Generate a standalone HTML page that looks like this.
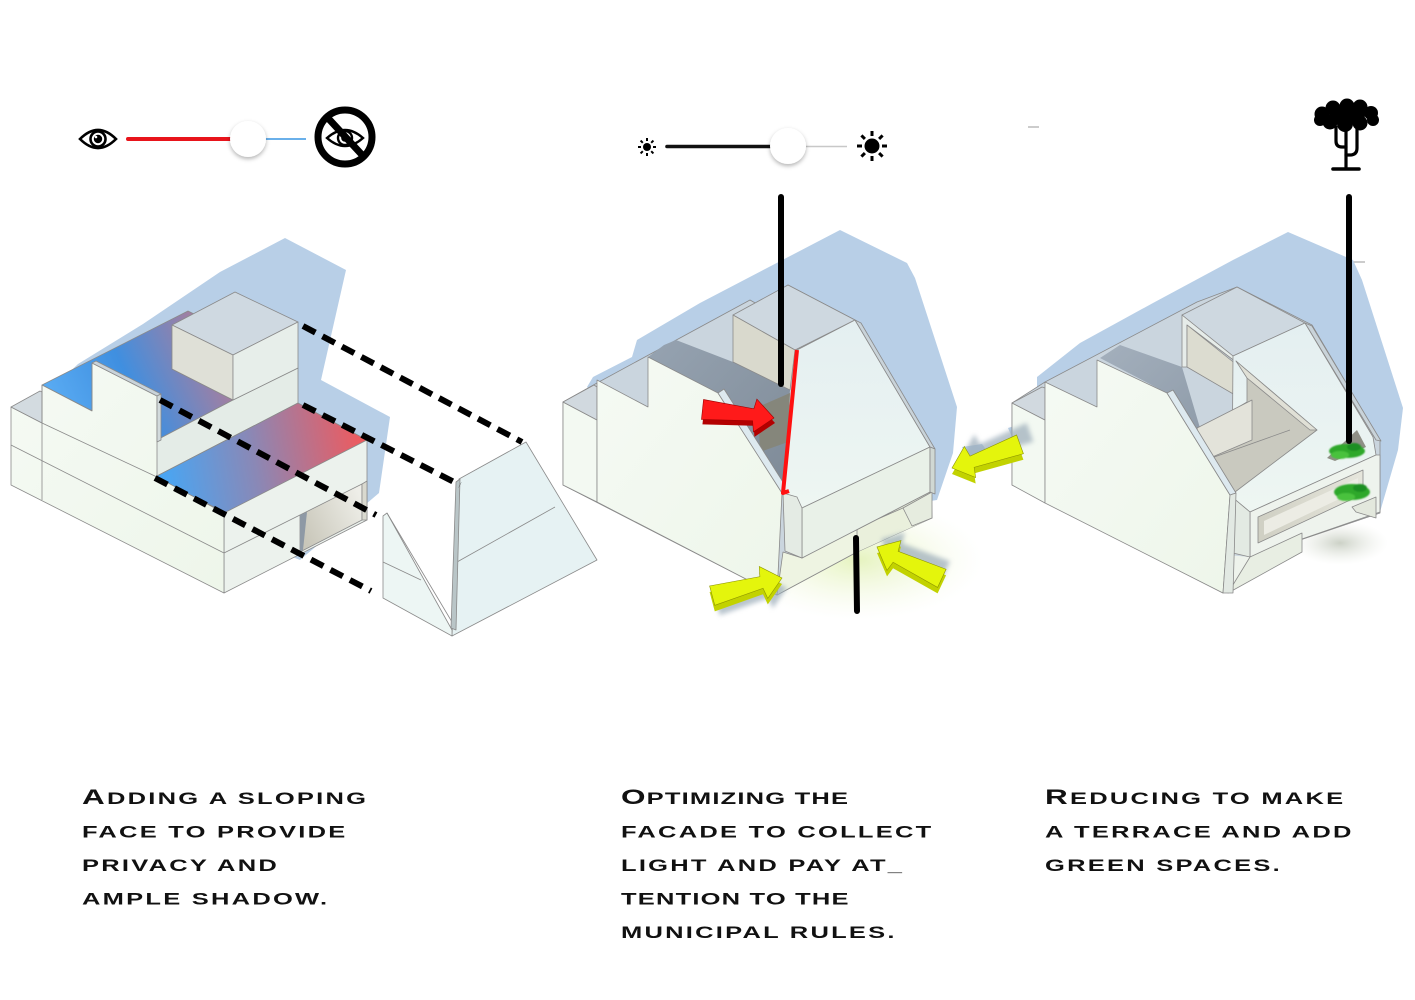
<!DOCTYPE html>
<html><head><meta charset="utf-8">
<style>html,body{margin:0;padding:0;background:#fff;}svg{display:block}</style>
</head><body>
<svg width="1415" height="1000" viewBox="0 0 1415 1000" xmlns="http://www.w3.org/2000/svg">
<defs>
  <linearGradient id="roofUp" gradientUnits="userSpaceOnUse" x1="55" y1="400" x2="205" y2="330">
    <stop offset="0" stop-color="#58aaf2"/><stop offset="0.45" stop-color="#3f8fe0"/><stop offset="1" stop-color="#a87e9e"/>
  </linearGradient>
  <linearGradient id="roofLow" gradientUnits="userSpaceOnUse" x1="165" y1="475" x2="362" y2="440">
    <stop offset="0" stop-color="#4aa5f2"/><stop offset="0.45" stop-color="#8a88b6"/><stop offset="1" stop-color="#ee5a5e"/>
  </linearGradient>
  <linearGradient id="slate" gradientUnits="userSpaceOnUse" x1="650" y1="350" x2="790" y2="480">
    <stop offset="0" stop-color="#95a2b0"/><stop offset="1" stop-color="#7f8b98"/>
  </linearGradient>
  <linearGradient id="slate2" gradientUnits="userSpaceOnUse" x1="1100" y1="350" x2="1230" y2="490">
    <stop offset="0" stop-color="#a3afbc"/><stop offset="1" stop-color="#8693a1"/>
  </linearGradient>
  <linearGradient id="slopeFace" x1="0" y1="0" x2="0" y2="1">
    <stop offset="0" stop-color="#e4eff1"/><stop offset="1" stop-color="#eef6f2"/>
  </linearGradient>
  <linearGradient id="frontFace" x1="0" y1="0" x2="1" y2="1">
    <stop offset="0" stop-color="#f5faf4"/><stop offset="1" stop-color="#eef6ea"/>
  </linearGradient>
  <linearGradient id="passage" gradientUnits="userSpaceOnUse" x1="300" y1="530" x2="362" y2="500">
    <stop offset="0" stop-color="#c9c7ba"/><stop offset="1" stop-color="#eeeee8"/>
  </linearGradient>
  <linearGradient id="slot" x1="0" y1="0" x2="1" y2="0">
    <stop offset="0" stop-color="#cfcfc3"/><stop offset="1" stop-color="#e6e6dc"/>
  </linearGradient>
  <radialGradient id="glow" cx="0.5" cy="0.5" r="0.5">
    <stop offset="0" stop-color="#e3f2b8" stop-opacity="0.9"/><stop offset="1" stop-color="#f3f9e3" stop-opacity="0"/>
  </radialGradient>
  <radialGradient id="groundSh" cx="0.5" cy="0.5" r="0.5">
    <stop offset="0" stop-color="#c6ccc0" stop-opacity="0.9"/><stop offset="1" stop-color="#e8ece4" stop-opacity="0"/>
  </radialGradient>
  <filter id="ds" x="-50%" y="-50%" width="200%" height="200%">
    <feDropShadow dx="0" dy="2" stdDeviation="2.2" flood-color="#000" flood-opacity="0.3"/>
  </filter>
  <filter id="bl" x="-30%" y="-30%" width="160%" height="160%"><feGaussianBlur stdDeviation="2.5"/></filter>
  <filter id="bl1" x="-30%" y="-30%" width="160%" height="160%"><feGaussianBlur stdDeviation="0.8"/></filter>
  <path id="arrow" d="M0,0 L-19,-17 L-21,-7 L-72,-11 L-72,9 L-21,5 L-19,16 Z"/>
</defs>

<!-- ============ TOP ICONS LEFT ============ -->
<g>
  <path d="M80,139 Q98,121 116,139 Q98,157 80,139 Z" fill="#fff" stroke="#000" stroke-width="2.6"/>
  <circle cx="98" cy="139" r="7.5" fill="#fff" stroke="#000" stroke-width="2.6"/>
  <circle cx="98" cy="139" r="4.2" fill="#000"/>
  <circle cx="96" cy="137" r="1.3" fill="#fff"/>
  <line x1="128" y1="139" x2="232" y2="139" stroke="#e8141b" stroke-width="4" stroke-linecap="round"/>
  <line x1="264" y1="139" x2="306" y2="139" stroke="#6ab0ea" stroke-width="2"/>
  <circle cx="248" cy="139" r="18" fill="#fff" filter="url(#ds)"/>
  <circle cx="345" cy="137" r="27" fill="#fff" stroke="#000" stroke-width="7"/>
  <path d="M327,138 Q345,122 363,138 Q345,154 327,138 Z" fill="#fff" stroke="#000" stroke-width="2.4"/>
  <circle cx="345" cy="138" r="7" fill="#fff" stroke="#000" stroke-width="2.4"/>
  <circle cx="345" cy="138" r="3.8" fill="#000"/>
  <line x1="327" y1="117" x2="364" y2="157" stroke="#000" stroke-width="7"/>
</g>

<!-- ============ TOP ICONS MIDDLE ============ -->
<g>
  <circle cx="647" cy="147" r="4" fill="#000"/>
  <g stroke="#000" stroke-width="2" stroke-linecap="butt">
    <line x1="647" y1="138" x2="647" y2="141"/><line x1="647" y1="153" x2="647" y2="156"/>
    <line x1="638" y1="147" x2="641" y2="147"/><line x1="653" y1="147" x2="656" y2="147"/>
    <line x1="640.6" y1="140.6" x2="642.8" y2="142.8"/><line x1="651.2" y1="151.2" x2="653.4" y2="153.4"/>
    <line x1="653.4" y1="140.6" x2="651.2" y2="142.8"/><line x1="642.8" y1="151.2" x2="640.6" y2="153.4"/>
  </g>
  <line x1="667" y1="146.5" x2="772" y2="146.5" stroke="#111" stroke-width="3.6" stroke-linecap="round"/>
  <line x1="806" y1="146.5" x2="847" y2="146.5" stroke="#c8c8c8" stroke-width="1.6"/>
  <circle cx="788" cy="146" r="18" fill="#fff" filter="url(#ds)"/>
  <circle cx="872" cy="146" r="7.5" fill="#000"/>
  <g stroke="#000" stroke-width="3" stroke-linecap="butt">
    <line x1="872" y1="131" x2="872" y2="136"/><line x1="872" y1="156" x2="872" y2="161"/>
    <line x1="857" y1="146" x2="862" y2="146"/><line x1="882" y1="146" x2="887" y2="146"/>
    <line x1="861.4" y1="135.4" x2="864.9" y2="138.9"/><line x1="879.1" y1="153.1" x2="882.6" y2="156.6"/>
    <line x1="882.6" y1="135.4" x2="879.1" y2="138.9"/><line x1="864.9" y1="153.1" x2="861.4" y2="156.6"/>
  </g>
</g>

<!-- small grey marks -->
<line x1="1028" y1="127" x2="1039" y2="127" stroke="#aaa" stroke-width="1.2"/>
<line x1="1353" y1="262" x2="1365" y2="262" stroke="#aaa" stroke-width="1.2"/>

<!-- ============ TREE ICON ============ -->
<g fill="#000">
  <circle cx="1322" cy="114" r="7.5"/><circle cx="1333" cy="108" r="7.5"/><circle cx="1347" cy="106" r="7.5"/>
  <circle cx="1360" cy="107" r="7.5"/><circle cx="1371" cy="113" r="7"/><circle cx="1373" cy="120" r="6"/>
  <circle cx="1360" cy="123" r="7.5"/><circle cx="1345" cy="124" r="8"/><circle cx="1330" cy="122" r="7.5"/>
  <circle cx="1320" cy="120" r="6"/><circle cx="1340" cy="115" r="9"/><circle cx="1356" cy="115" r="9"/>
</g>
<g fill="none" stroke="#000" stroke-width="3.2" stroke-linecap="round">
  <path d="M1346,167 V126"/>
  <path d="M1336,127 V141 Q1336,147 1342,147 H1346"/>
  <path d="M1357,127 V148 Q1357,155 1350,155 H1346"/>
  <path d="M1333,169 H1359" stroke-width="3.6"/>
</g>

<!-- ============ LEFT BUILDING ============ -->
<polygon points="285,238 346,270 321,380 390,417 379,493 300,560 150,500 33,429 34,406 78,364 143,324 220,272" fill="#b8cfe7"/>
<g stroke="#8a8a8a" stroke-width="0.8" stroke-linejoin="round">
  <polygon points="42,385 188,311 196,315 172,327 172,369 233,400 153,442" fill="url(#roofUp)"/>
  <polygon points="153,442 233,400 298,368 298,403 155,477" fill="#e4ece7"/>
  <polygon points="172,325 235,292 298,322 233,355" fill="#cfd9e1"/>
  <polygon points="172,325 233,355 233,400 172,369" fill="#dfe0d7"/>
  <polygon points="233,355 298,322 298,368 233,400" fill="#e7eeea"/>
  <polygon points="155,477 226,513 367,440 298,403" fill="url(#roofLow)"/>
  <polygon points="224,513 367,440 367,520 224,593" fill="#ecf2ed"/>
  <line x1="224" y1="553" x2="300" y2="515"/>
  <polygon points="300,515 362,484 362,520 300,552" fill="url(#passage)"/>
  <polygon points="300,515 307,512 303,550 300,552" fill="#8e99a5" stroke="none"/>
  <polygon points="362,484 367,481 367,520 362,520" fill="#d9d9cf"/>
  <polygon points="11,407 42,423 42,385 92,411 92,363 157,396 157,477 224,513 224,593 11,485" fill="url(#frontFace)"/>
  <polygon points="11,407 40,391 42,392 42,423" fill="#d3dbe0"/>
  <polygon points="92,363 96,361 161,394 157,396" fill="#c9d3da"/>
  <polygon points="157,396 161,394 161,440 157,442" fill="#d2dadc"/>
  <line x1="11" y1="445" x2="224" y2="553"/>
  <line x1="42" y1="423" x2="157" y2="477"/>
  <line x1="42" y1="385" x2="42" y2="500"/>
  <line x1="92" y1="363" x2="92" y2="411"/>
</g>
<g stroke="#8a8a8a" stroke-width="0.8" stroke-linejoin="round">
  <polygon points="459,479 526,442 597,560 452,636" fill="#e6f2f3"/>
  <line x1="457" y1="562" x2="555" y2="507"/>
  <polygon points="383,516 387,513 452,630 452,636 383,598" fill="#edf6f4"/>
  <line x1="387" y1="513" x2="452" y2="622"/>
  <line x1="383" y1="562" x2="421" y2="580"/>
  <polygon points="451,628 456,482 460,479 456,630" fill="#b9c5c7"/>
</g>
<g stroke="#000" stroke-width="6" stroke-dasharray="14 8" fill="none">
  <line x1="303" y1="326" x2="522" y2="442"/>
  <line x1="303" y1="405" x2="460" y2="485"/>
  <line x1="160" y1="400" x2="376" y2="515"/>
  <line x1="155" y1="478" x2="371" y2="591"/>
</g>

<!-- ============ MIDDLE BUILDING ============ -->
<ellipse cx="858" cy="560" rx="125" ry="60" fill="url(#glow)"/>
<polygon points="840,230 907,263 915,278 957,407 953,453 937,500 800,520 700,505 587,387 593,377 632,357 637,340 700,303" fill="#b8cfe7"/>
<g stroke="#8a8a8a" stroke-width="0.8" stroke-linejoin="round">
  <polygon points="563,402 597,383 750,300 757,304 788,285 855,320 930,447 932,518 857,552 777,595 563,485" fill="#cad5de"/>
  <polygon points="648,357 664,345 676,340 733,362 790,390 783,493 718,393" fill="url(#slate)" stroke="none"/>
  <polygon points="758,407 790,393 788,442 760,452" fill="#85867b" stroke="none"/>
  <polygon points="733,315 788,285 855,320 795,350" fill="#ced8e0"/>
  <polygon points="733,315 795,350 790,390 733,362" fill="#d9d9cd"/>
  <polygon points="563,402 597,420 597,502 563,485" fill="#f3f9f2"/>
  <polygon points="563,402 594,385 597,387 597,420" fill="#d1d9df"/>
  <polygon points="597,380 648,407 648,357 718,393 782,493 777,595 597,502" fill="url(#frontFace)"/>
  <polygon points="718,393 724,389 788,490 782,493" fill="#dde9ef"/>
  <polygon points="857,528 903,508 912,526 932,518 857,552" fill="#eaf0dc" stroke="none"/>
  <polygon points="802,558 930,492 932,518 903,508 857,528" fill="#e2e8d6"/>
  <polygon points="783,552 802,558 857,528 857,552 777,595" fill="#eef4e2"/>
  <polygon points="903,508 932,492 932,518 912,526" fill="#e6ecdf"/>
  <polygon points="797,350 855,320 930,447 802,508 783,493" fill="url(#slopeFace)"/>
  <polygon points="855,320 861,323 935,449 930,447" fill="#c9d3d9"/>
  <polygon points="802,508 930,447 930,492 802,558" fill="#e9f1e8"/>
  <polygon points="930,447 935,449 935,494 930,492" fill="#d0d8d3"/>
  <polygon points="783,493 797,497 802,508 802,558 785,551" fill="#e4ebe4"/>
</g>
<polyline points="797,350 783,493 789,491" fill="none" stroke="#ff1010" stroke-width="4" stroke-linejoin="round"/>
<line x1="781" y1="197" x2="781" y2="384" stroke="#000" stroke-width="6" stroke-linecap="round"/>
<line x1="856" y1="538" x2="857" y2="611" stroke="#000" stroke-width="6" stroke-linecap="round"/>

<!-- ============ RIGHT BUILDING ============ -->
<ellipse cx="1340" cy="543" rx="48" ry="22" fill="url(#groundSh)"/>
<polygon points="1288,232 1353,260 1362,280 1403,408 1398,450 1380,512 1250,530 1037,392 1037,377 1080,343 1153,303 1233,260" fill="#b8cfe7"/>
<polygon points="962,447 982,444 990,455 968,459" fill="#b8cfe7"/>
<polygon points="1008,428 1030,421 1032,440 1015,444" fill="#b8cfe7"/>
<g stroke="#8a8a8a" stroke-width="0.8" stroke-linejoin="round">
  <polygon points="1012,403 1045,382 1197,302 1237,287 1312,325 1380,440 1380,513 1250,557 1223,593 1012,485" fill="#cad5de"/>
  <polygon points="1100,358 1120,345 1182,367 1200,428 1213,457 1233,493 1230,495 1167,393" fill="url(#slate2)" stroke="none"/>
  <polygon points="1182,315 1237,287 1305,323 1233,356" fill="#ced8e0"/>
  <polygon points="1182,315 1233,356 1236,362 1187,325 1187,367 1182,367" fill="#e6ece9"/>
  <polygon points="1187,325 1247,373 1247,402 1187,367" fill="#dcdcd0"/>
  <polygon points="1233,356 1305,323 1373,437 1376,455 1250,512 1232,497" fill="url(#slopeFace)"/>
  <polygon points="1236,361 1317,430 1235,492 1213,457 1200,430 1247,402 1247,373" fill="#c9c9bf"/>
  <polygon points="1236,361 1317,430 1310,430 1247,378" fill="#e0e0d6"/>
  <polygon points="1197,428 1252,400 1252,440 1203,461" fill="#e3e3da"/>
  <line x1="1203" y1="461" x2="1290" y2="430"/>
  <polygon points="1305,323 1312,326 1381,441 1376,440" fill="#c9d3d9"/>
  <polygon points="1250,512 1376,455 1380,455 1380,512 1250,557" fill="#eef3ed"/>
  <polygon points="1228,555 1250,557 1228,593" fill="#eef3ec" stroke="none"/>
  <polygon points="1232,497 1250,512 1250,557 1233,553" fill="#e3eae3"/>
  <polygon points="1258,517 1363,470 1363,494 1258,543" fill="url(#slot)"/>
  <polygon points="1264,521 1358,478 1358,490 1264,535" fill="#ecece4" stroke="none"/>
  <polygon points="1250,557 1302,533 1302,552 1228,593" fill="#e8eee3"/>
  <polygon points="1352,507 1376,497 1376,518 1356,512" fill="#e3e8dd"/>
  <polygon points="1012,403 1045,420 1045,503 1012,485" fill="#f3f9f2"/>
  <polygon points="1012,403 1042,387 1045,388 1045,420" fill="#d1d9df"/>
  <polygon points="1045,382 1097,407 1097,360 1167,393 1230,495 1223,593 1045,503" fill="url(#frontFace)"/>
  <polygon points="1167,393 1173,390 1236,493 1230,495" fill="#dde9ef"/>
  <polygon points="1230,495 1236,493 1233,593 1223,593" fill="#e2e9e3"/>
</g>
<polygon points="1327,458 1357,430 1366,447 1335,461" fill="#8f8f86"/>
<g filter="url(#bl1)">
  <ellipse cx="1347" cy="451" rx="18" ry="7" fill="#2ea82a"/>
  <ellipse cx="1340" cy="455" rx="9" ry="4" fill="#49c23d"/>
  <ellipse cx="1354" cy="447" rx="7" ry="4" fill="#1f8f22"/>
  <ellipse cx="1352" cy="492" rx="18" ry="8" fill="#2ea82a"/>
  <ellipse cx="1346" cy="497" rx="9" ry="4" fill="#49c23d"/>
  <ellipse cx="1360" cy="488" rx="7" ry="4" fill="#1f8f22"/>
</g>
<line x1="1349" y1="197" x2="1349" y2="441" stroke="#000" stroke-width="6" stroke-linecap="round"/>

<!-- ============ ARROWS ============ -->
<g transform="translate(774,418)">
  <g transform="translate(1,5) rotate(6)"><use href="#arrow" fill="#b30000"/></g>
  <g transform="rotate(6)"><use href="#arrow" fill="#ff1a1a" stroke="#a00000" stroke-width="0.6"/></g>
</g>
<g transform="translate(782,578)">
  <g transform="translate(5,10) rotate(-15)" filter="url(#bl)"><use href="#arrow" fill="#9aabb8" opacity="0.7"/></g>
  <g transform="translate(0,6) rotate(-15)"><use href="#arrow" fill="#c2d200"/></g>
  <g transform="rotate(-15)"><use href="#arrow" fill="#e4f50c" stroke="#8e9600" stroke-width="0.6"/></g>
</g>
<g transform="translate(877,547)">
  <g transform="translate(4,-8) rotate(205)" filter="url(#bl)"><use href="#arrow" fill="#9aabb8" opacity="0.7"/></g>
  <g transform="translate(0,6) rotate(205)"><use href="#arrow" fill="#c2d200"/></g>
  <g transform="rotate(205)"><use href="#arrow" fill="#e4f50c" stroke="#8e9600" stroke-width="0.6"/></g>
</g>
<g transform="translate(952,468)">
  <g transform="translate(10,-12) rotate(160)" filter="url(#bl)"><use href="#arrow" fill="#9aabb8" opacity="0.7"/></g>
  <g transform="translate(0,6) rotate(160)"><use href="#arrow" fill="#c2d200"/></g>
  <g transform="rotate(160)"><use href="#arrow" fill="#e4f50c" stroke="#8e9600" stroke-width="0.6"/></g>
</g>

<!-- ============ TEXT ============ -->
<g font-family="'Liberation Sans', Arial, sans-serif" font-weight="bold" font-size="17" fill="#111" style="letter-spacing:1.5px">
  <text transform="translate(82,804) scale(1.5,1)"><tspan font-size="21">A</tspan>DDING A SLOPING</text>
  <text transform="translate(82,837.5) scale(1.5,1)">FACE TO PROVIDE</text>
  <text transform="translate(82,871) scale(1.5,1)">PRIVACY AND</text>
  <text transform="translate(82,904.5) scale(1.5,1)">AMPLE SHADOW.</text>

  <text transform="translate(621,804) scale(1.5,1)" style="letter-spacing:0.8px"><tspan font-size="21">O</tspan>PTIMIZING THE</text>
  <text transform="translate(621,837.5) scale(1.5,1)">FACADE TO COLLECT</text>
  <text transform="translate(621,871) scale(1.5,1)">LIGHT AND PAY AT_</text>
  <text transform="translate(621,904.5) scale(1.5,1)" style="letter-spacing:0.8px">TENTION TO THE</text>
  <text transform="translate(621,938) scale(1.5,1)">MUNICIPAL RULES.</text>

  <text transform="translate(1045,804) scale(1.5,1)"><tspan font-size="21">R</tspan>EDUCING TO MAKE</text>
  <text transform="translate(1045,837.5) scale(1.5,1)">A TERRACE AND ADD</text>
  <text transform="translate(1045,871) scale(1.5,1)">GREEN SPACES.</text>
</g>
</svg>
</body></html>
